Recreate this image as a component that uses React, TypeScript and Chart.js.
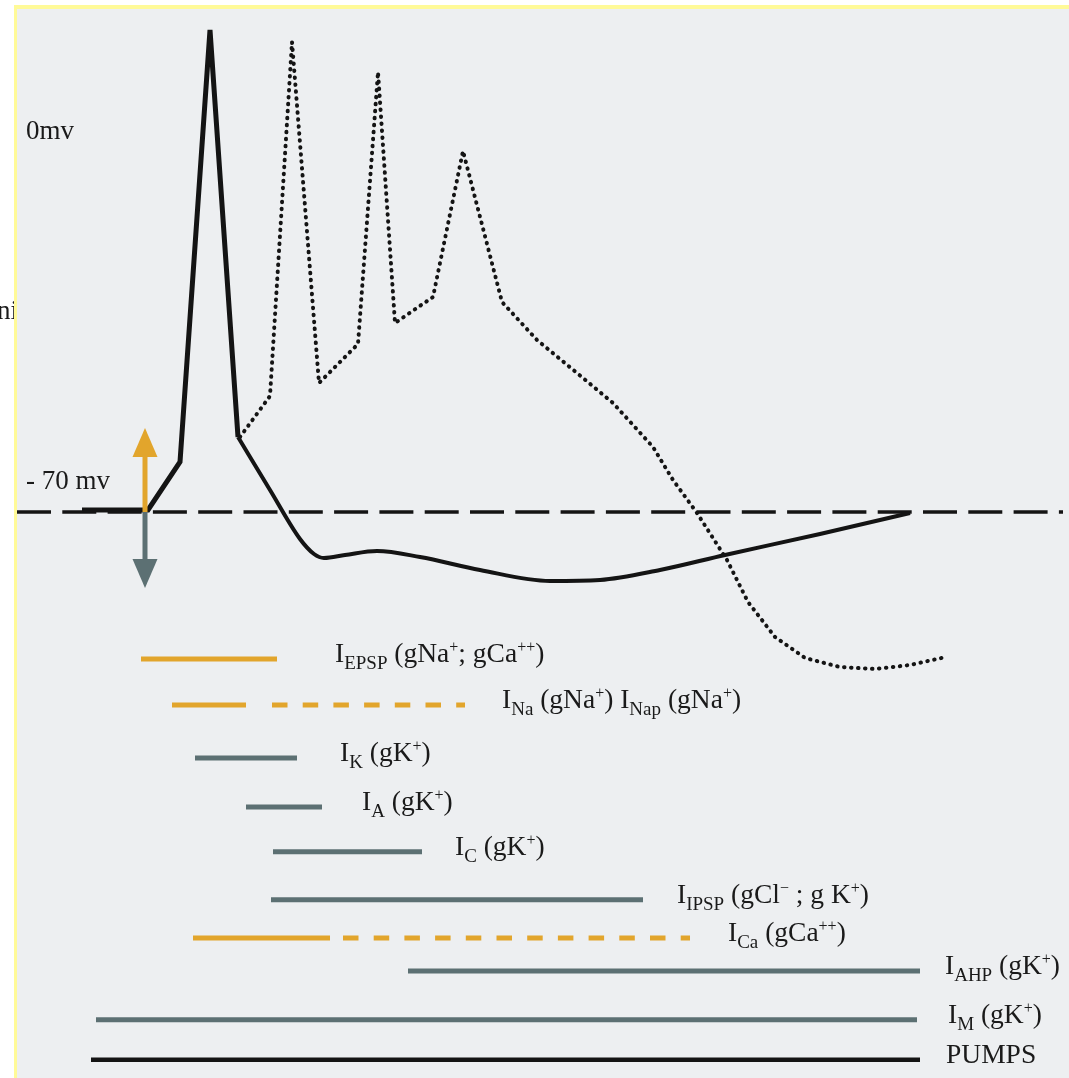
import { useEffect, useRef } from "react";
import { Chart, registerables } from "chart.js";
Chart.register(...registerables);

// ---- membrane potential (time in arbitrary units, voltage in mV) ----
const spikeT = [8.2, 14.8, 18.0, 21.0, 23.8];
const spikeV = [-69.6, -69.6, -60.0, 26.4, -55.0];

const afterT = [23.8, 27.0, 30.0, 31.4, 32.4, 34.5, 37.7, 42.0, 48.0, 55.0, 60.0, 66.0, 72.5, 82.0, 91.0];
const afterV = [-55.0, -65.6, -75.4, -78.4, -79.2, -78.6, -77.8, -79.0, -81.6, -83.8, -83.6, -81.6, -78.6, -74.4, -70.2];

const burstT = [24.0, 27.0, 29.2, 31.9, 35.8, 37.8, 39.5, 43.3, 46.3, 50.2, 53.7, 57.7, 61.3, 65.3, 67.3, 69.7, 72.7, 74.8, 77.5, 80.5, 84.0, 87.5, 91.0, 94.6];
const burstV = [-55.0, -46.8, 24.0, -44.2, -36.4, 18.0, -32.2, -27.0, 2.2, -28.0, -35.6, -42.2, -48.2, -57.0, -63.6, -70.2, -79.6, -88.0, -95.0, -99.2, -101.0, -101.4, -100.6, -99.0];

const restT = [1.7, 106.3];
const restV = -70;

// stimulus arrows
const stimT = 14.5;
const stimUpTip = -53.2;
const stimDownTip = -85.2;

// level labels
const levelLabels = ["0mv", "- 70 mv"];
const levelValues = [0, -70];
const levelT = 2.6;

// ---- ionic currents (time intervals, row index) ----
const currentNames = ["EPSP", "Na", "K", "A", "C", "IPSP", "Ca", "AHP", "M", "PUMPS"];
const currentRow = [0, 1.035, 2.23, 3.33, 4.34, 5.42, 6.28, 7.02, 8.12, 9.02];
const currentKind = ["exc", "exc", "inh", "inh", "inh", "inh", "exc", "inh", "inh", "pump"];
const currentStart = [14.1, 17.2, 19.5, 24.6, 27.3, 27.1, 19.3, 40.8, 9.6, 9.1];
const currentEnd = [27.7, 24.6, 29.7, 32.2, 42.2, 64.3, 33.0, 92.0, 91.7, 92.0];
const persistStart = [null, 27.2, null, null, null, null, 34.3, null, null, null];
const persistEnd = [null, 46.5, null, null, null, null, 69.0, null, null, null];
const labelT = [33.5, 50.2, 34.0, 36.2, 45.5, 67.7, 72.8, 94.5, 94.8, 94.6];
// rich text: n = normal, b = subscript, p = superscript
const labelParts: [string, string][][] = [
  [["I", "n"], ["EPSP", "b"], [" (gNa", "n"], ["+", "p"], ["; gCa", "n"], ["++", "p"], [")", "n"]],
  [["I", "n"], ["Na", "b"], [" (gNa", "n"], ["+", "p"], [") I", "n"], ["Nap", "b"], [" (gNa", "n"], ["+", "p"], [")", "n"]],
  [["I", "n"], ["K", "b"], [" (gK", "n"], ["+", "p"], [")", "n"]],
  [["I", "n"], ["A", "b"], [" (gK", "n"], ["+", "p"], [")", "n"]],
  [["I", "n"], ["C", "b"], [" (gK", "n"], ["+", "p"], [")", "n"]],
  [["I", "n"], ["IPSP", "b"], [" (gCl", "n"], ["\u2212", "p"], [" ; g K", "n"], ["+", "p"], [")", "n"]],
  [["I", "n"], ["Ca", "b"], [" (gCa", "n"], ["++", "p"], [")", "n"]],
  [["I", "n"], ["AHP", "b"], [" (gK", "n"], ["+", "p"], [")", "n"]],
  [["I", "n"], ["M", "b"], [" (gK", "n"], ["+", "p"], [")", "n"]],
  [["PUMPS", "n"]],
];

const W = 1069;
const H = 1078;
const YELLOW = "#e2a52c";
const GREY = "#5c7073";
const INK = "#141414";
const SERIF = '"Liberation Serif", "Times New Roman", serif';
const kindColor: Record<string, string> = { exc: YELLOW, inh: GREY, pump: INK };

function pts(t: number[], v: number[]) {
  return t.map((x, i) => ({ x, y: v[i] }));
}

function drawRich(ctx: CanvasRenderingContext2D, x: number, y: number, parts: [string, string][]) {
  let cx = x;
  for (const [txt, kind] of parts) {
    let size = 27.5;
    let dy = 0;
    if (kind === "b") { size = 19; dy = 7; }
    if (kind === "p") { size = 16; dy = -10; }
    ctx.font = `${size}px ${SERIF}`;
    ctx.fillText(txt, cx, y + dy);
    cx += ctx.measureText(txt).width;
  }
}

const backgroundPlugin = {
  id: "paper",
  beforeDraw(chart: any) {
    const ctx = chart.ctx as CanvasRenderingContext2D;
    ctx.save();
    ctx.fillStyle = "#ffffff";
    ctx.fillRect(0, 0, W, H);
    ctx.fillStyle = "#1a1a1a";
    ctx.font = `27px ${SERIF}`;
    ctx.textBaseline = "alphabetic";
    ctx.fillText("ni", -3, 319);
    ctx.fillStyle = "#fffa98";
    ctx.fillRect(14, 5, W - 14, H - 5);
    ctx.fillStyle = "#edeff1";
    ctx.fillRect(17, 9, W - 17, H - 9);
    ctx.restore();
  },
};

const annotationPlugin = {
  id: "annot",
  afterDatasetsDraw(chart: any) {
    const ctx = chart.ctx as CanvasRenderingContext2D;
    const xs = chart.scales.x;
    const ys = chart.scales.y;
    const rs = chart.scales.yRow;
    ctx.save();
    // arrows
    const ax = xs.getPixelForValue(stimT);
    const base = ys.getPixelForValue(restV);
    const drawArrow = (tipV: number, color: string) => {
      const tip = ys.getPixelForValue(tipV);
      const dir = tip < base ? -1 : 1;
      const headLen = 29;
      const headBase = tip - dir * headLen;
      ctx.strokeStyle = color;
      ctx.fillStyle = color;
      ctx.lineWidth = 5;
      ctx.lineCap = "butt";
      ctx.beginPath();
      ctx.moveTo(ax, base);
      ctx.lineTo(ax, headBase);
      ctx.stroke();
      ctx.beginPath();
      ctx.moveTo(ax, tip);
      ctx.lineTo(ax - 12.5, headBase);
      ctx.lineTo(ax + 12.5, headBase);
      ctx.closePath();
      ctx.fill();
    };
    drawArrow(stimUpTip, YELLOW);
    drawArrow(stimDownTip, GREY);

    // level labels
    ctx.fillStyle = "#1a1a1a";
    ctx.textBaseline = "alphabetic";
    ctx.font = `27px ${SERIF}`;
    levelLabels.forEach((lab, i) => {
      ctx.fillText(lab, xs.getPixelForValue(levelT), ys.getPixelForValue(levelValues[i]) - 23);
    });

    // current labels
    ctx.fillStyle = "#1a1a1a";
    currentNames.forEach((_, i) => {
      drawRich(ctx, xs.getPixelForValue(labelT[i]), rs.getPixelForValue(currentRow[i]) + 3, labelParts[i]);
    });
    ctx.restore();
  },
};

export default function App() {
  const ref = useRef<HTMLCanvasElement | null>(null);
  useEffect(() => {
    if (!ref.current) return;
    const datasets: any[] = [];
    datasets.push({
      data: pts(spikeT, spikeV),
      borderColor: INK,
      borderWidth: 5,
      borderJoinStyle: "miter",
      tension: 0,
      yAxisID: "y",
    });
    datasets.push({
      data: pts(afterT, afterV),
      borderColor: INK,
      borderWidth: 4,
      cubicInterpolationMode: "monotone",
      yAxisID: "y",
    });
    datasets.push({
      data: pts(burstT, burstV),
      borderColor: INK,
      borderWidth: 4,
      borderDash: [0.5, 6.5],
      borderCapStyle: "round",
      borderJoinStyle: "round",
      tension: 0,
      yAxisID: "y",
    });
    datasets.push({
      data: restT.map((x) => ({ x, y: restV })),
      borderColor: INK,
      borderWidth: 3.5,
      borderDash: [34, 11.3],
      yAxisID: "y",
    });
    currentNames.forEach((_, i) => {
      const color = kindColor[currentKind[i]];
      datasets.push({
        data: [
          { x: currentStart[i], y: currentRow[i] },
          { x: currentEnd[i], y: currentRow[i] },
        ],
        borderColor: color,
        borderWidth: currentKind[i] === "pump" ? 4.5 : 5,
        borderCapStyle: "butt",
        yAxisID: "yRow",
      });
      if (persistStart[i] !== null) {
        datasets.push({
          data: [
            { x: persistStart[i], y: currentRow[i] },
            { x: persistEnd[i], y: currentRow[i] },
          ],
          borderColor: color,
          borderWidth: 5,
          borderDash: [15.5, 15.2],
          borderCapStyle: "butt",
          yAxisID: "yRow",
        });
      }
    });

    const chart = new Chart(ref.current, {
      type: "line",
      data: { datasets },
      options: {
        animation: false,
        responsive: false,
        maintainAspectRatio: false,
        devicePixelRatio: 1,
        layout: { padding: 0 },
        elements: { point: { radius: 0, hoverRadius: 0 }, line: { fill: false } },
        plugins: { legend: { display: false }, tooltip: { enabled: false } },
        events: [],
        scales: {
          x: { type: "linear", axis: "x", display: false, min: 0, max: 106.9 },
          y: { type: "linear", axis: "y", display: false, min: -183.2, max: 32.4 },
          yRow: { type: "linear", axis: "y", position: "left", display: false, min: -14.83, max: 9.43, reverse: true },
        },
      },
      plugins: [backgroundPlugin, annotationPlugin],
    } as any);
    return () => chart.destroy();
  }, []);
  return (
    <div style={{ position: "absolute", left: 0, top: 0, width: W, height: H }}>
      <canvas ref={ref} width={W} height={H} style={{ display: "block", width: W, height: H }} />
    </div>
  );
}
